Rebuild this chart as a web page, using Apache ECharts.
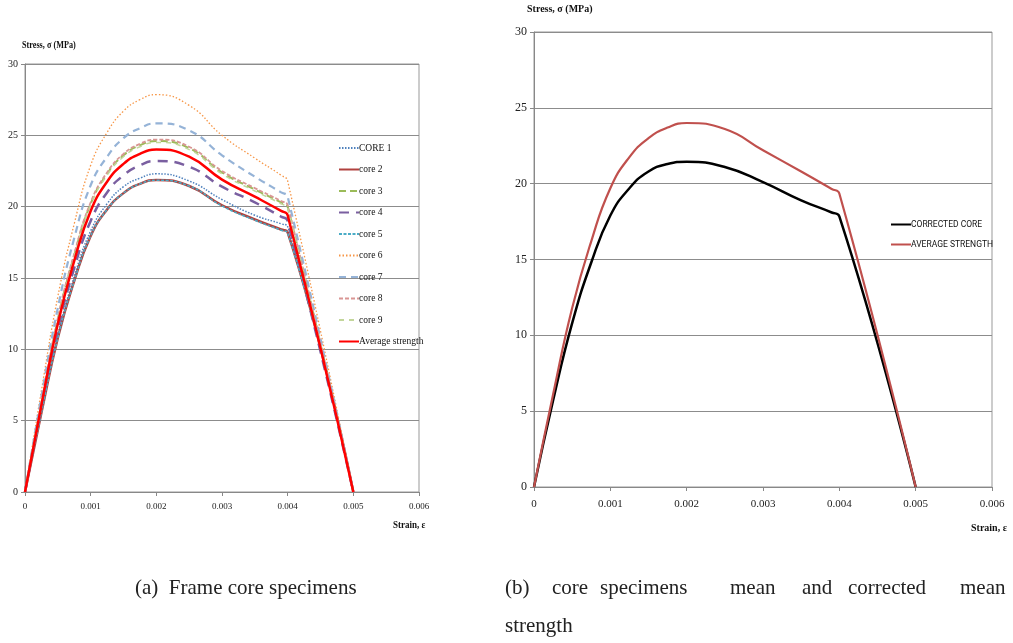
<!DOCTYPE html>
<html>
<head>
<meta charset="utf-8">
<script src="https://cdn.jsdelivr.net/npm/echarts@6/dist/echarts.min.js"></script>
<style>
  html, body { margin: 0; padding: 0; background: #fff; }
  #chart { width: 1013px; height: 643px; }
</style>
</head>
<body>
<div id="chart"></div>
<script>
// strain points shared by every curve
const strain = [0, 0.00025, 0.0005, 0.00075, 0.001, 0.00125, 0.0015, 0.00175, 0.002, 0.0025, 0.003, 0.0035, 0.0039, 0.004, 0.005];

// (a) frame core specimens
const core1 = [0, 5.7, 11.0, 15.1, 18.3, 20.2, 21.4, 22.0, 22.3, 21.8, 20.5, 19.4, 18.8, 18.6, 0];
const core2 = [0, 5.55, 10.8, 14.8, 17.95, 19.8, 20.95, 21.6, 21.87, 21.45, 20.1, 19.1, 18.4, 18.2, 0];
const core3 = [0, 6.2, 12.1, 16.6, 20.2, 22.3, 23.6, 24.3, 24.6, 24.1, 22.4, 21.2, 20.3, 20.0, 0];
const core4 = [0, 5.9, 11.4, 15.7, 19.0, 21.0, 22.2, 22.9, 23.2, 22.8, 21.4, 20.3, 19.3, 19.0, 0];
const core5 = [0, 5.55, 10.8, 14.8, 17.95, 19.8, 20.95, 21.6, 21.85, 21.45, 20.05, 19.05, 18.35, 18.15, 0];
const core6 = [0, 7.1, 13.7, 18.8, 22.9, 25.2, 26.7, 27.5, 27.85, 27.1, 25.0, 23.4, 22.2, 21.8, 0];
const core7 = [0, 6.7, 12.9, 17.8, 21.5, 23.5, 24.8, 25.5, 25.84, 25.35, 23.6, 22.1, 21.0, 20.7, 0];
const core8 = [0, 6.3, 12.2, 16.7, 20.3, 22.4, 23.7, 24.4, 24.7, 24.2, 22.5, 21.3, 20.4, 20.1, 0];
const core9 = [0, 6.2, 12.0, 16.5, 20.1, 22.2, 23.5, 24.2, 24.5, 24.0, 22.3, 21.1, 20.2, 19.9, 0];
const averageA = [0, 6.1, 11.8, 16.2, 19.7, 21.75, 23.0, 23.7, 24.0, 23.5, 21.9, 20.7, 19.7, 19.4, 0];

// (b) mean and corrected mean
const corrected = [0, 5.7, 10.8, 14.8, 17.9, 19.7, 20.8, 21.3, 21.45, 21.1, 20.1, 18.9, 18.1, 17.85, 0];
const averageB = [0, 6.1, 11.8, 16.2, 19.7, 21.75, 23.0, 23.7, 24.0, 23.6, 22.2, 20.8, 19.65, 19.35, 0];

const pairs = vals => strain.map((s, i) => [s, vals[i]]);
const fmtX = v => (v === 0 ? '0' : v.toFixed(3));
const serif = '"Liberation Serif", "Times New Roman", serif';

function xAxisFor(gridIndex, size, margin) {
  return {
    type: 'value', gridIndex: gridIndex, min: 0, max: 0.006, interval: 0.001,
    axisLine: { lineStyle: { color: '#888', width: 1 } },
    axisTick: { show: true, length: 4, lineStyle: { color: '#888' } },
    axisLabel: { formatter: fmtX, fontFamily: serif, fontSize: size, color: '#222', margin: margin },
    splitLine: { show: false }
  };
}
function yAxisFor(gridIndex, size) {
  return {
    type: 'value', gridIndex: gridIndex, min: 0, max: 30, interval: 5,
    axisLine: { show: true, lineStyle: { color: '#888', width: 1 } },
    axisTick: { show: true, length: 4, lineStyle: { color: '#888' } },
    axisLabel: { fontFamily: serif, fontSize: size, color: '#222', margin: 7 },
    splitLine: { show: true, lineStyle: { color: '#8c8c8c', width: 1 } }
  };
}

function lineSeries(name, vals, axis, color, width, dash) {
  return {
    name: name, type: 'line', xAxisIndex: axis, yAxisIndex: axis,
    data: pairs(vals), symbol: 'none', smooth: 0.5,
    lineStyle: { color: color, width: width, type: dash },
    itemStyle: { color: color },
    emphasis: { disabled: true }, animation: false
  };
}

function caption(text, x, y) {
  return { type: 'text', left: x, top: y, style: { text: text, font: '21px ' + serif, fill: '#222' } };
}

const chart = echarts.init(document.getElementById('chart'));

const option = {
  backgroundColor: '#fff',
  animation: false,
  grid: [
    { left: 25, top: 64, width: 394, height: 428, show: true, borderColor: '#999', borderWidth: 1, backgroundColor: 'transparent' },
    { left: 534, top: 32, width: 458, height: 455, show: true, borderColor: '#999', borderWidth: 1, backgroundColor: 'transparent' }
  ],
  xAxis: [xAxisFor(0, 9, 10), xAxisFor(1, 11, 12)],
  yAxis: [yAxisFor(0, 10), yAxisFor(1, 12)],
  legend: [
    {
      data: ['CORE 1', 'core 2', 'core 3', 'core 4', 'core 5', 'core 6', 'core 7', 'core 8', 'core 9', 'Average strength'],
      orient: 'vertical', left: 333, top: 138, itemWidth: 20, itemHeight: 10, itemGap: 11.5,
      itemStyle: { opacity: 0 },
      textStyle: { fontFamily: serif, fontSize: 9.5, color: '#111', padding: [0, 0, 0, -5] },
      selectedMode: false
    },
    {
      data: ['CORRECTED CORE', 'AVERAGE STRENGTH'],
      orient: 'vertical', left: 885, top: 215, itemWidth: 20, itemHeight: 10, itemGap: 11,
      itemStyle: { opacity: 0 },
      textStyle: { fontFamily: 'Roboto, "Liberation Sans", sans-serif', fontSize: 8.5, color: '#111', padding: [0, 0, 0, -5] },
      selectedMode: false
    }
  ],
  series: [
    lineSeries('CORE 1', core1, 0, '#4F81BD', 1.5, [1.5, 1.5]),
    lineSeries('core 2', core2, 0, '#B0413E', 2.5, 'solid'),
    lineSeries('core 3', core3, 0, '#9BBB59', 2, [7, 4]),
    lineSeries('core 4', core4, 0, '#7A5FA0', 2.5, [10, 7]),
    lineSeries('core 5', core5, 0, '#4BACC6', 1.5, [3, 1.5]),
    lineSeries('core 6', core6, 0, '#F79646', 1.3, [1.5, 2]),
    lineSeries('core 7', core7, 0, '#95B3D7', 2.2, [7, 5]),
    lineSeries('core 8', core8, 0, '#D99694', 1.8, [4, 2]),
    lineSeries('core 9', core9, 0, '#C3D69B', 1.5, [5, 5]),
    lineSeries('Average strength', averageA, 0, '#FF0000', 2.5, 'solid'),
    lineSeries('CORRECTED CORE', corrected, 1, '#000000', 2.5, 'solid'),
    lineSeries('AVERAGE STRENGTH', averageB, 1, '#C0504D', 2.2, 'solid')
  ],
  graphic: [
    { type: 'text', x: 22, y: 40, scaleX: 0.82, style: { text: 'Stress, σ (MPa)', font: 'bold 10px ' + serif, fill: '#111' } },
    { type: 'text', x: 393, y: 520, scaleX: 0.9, style: { text: 'Strain, ε', font: 'bold 10px ' + serif, fill: '#111' } },
    { type: 'text', x: 527, y: 4, style: { text: 'Stress, σ (MPa)', font: 'bold 10px ' + serif, fill: '#111' } },
    { type: 'text', x: 971, y: 523, style: { text: 'Strain, ε', font: 'bold 10px ' + serif, fill: '#111' } },
    caption('(a)  Frame core specimens', 135, 578),
    caption('(b)', 505, 578),
    caption('core', 552, 578),
    caption('specimens', 600, 578),
    caption('mean', 730, 578),
    caption('and', 802, 578),
    caption('corrected', 848, 578),
    caption('mean', 960, 578),
    caption('strength', 505, 616)
  ]
};

chart.setOption(option);
</script>
</body>
</html>
